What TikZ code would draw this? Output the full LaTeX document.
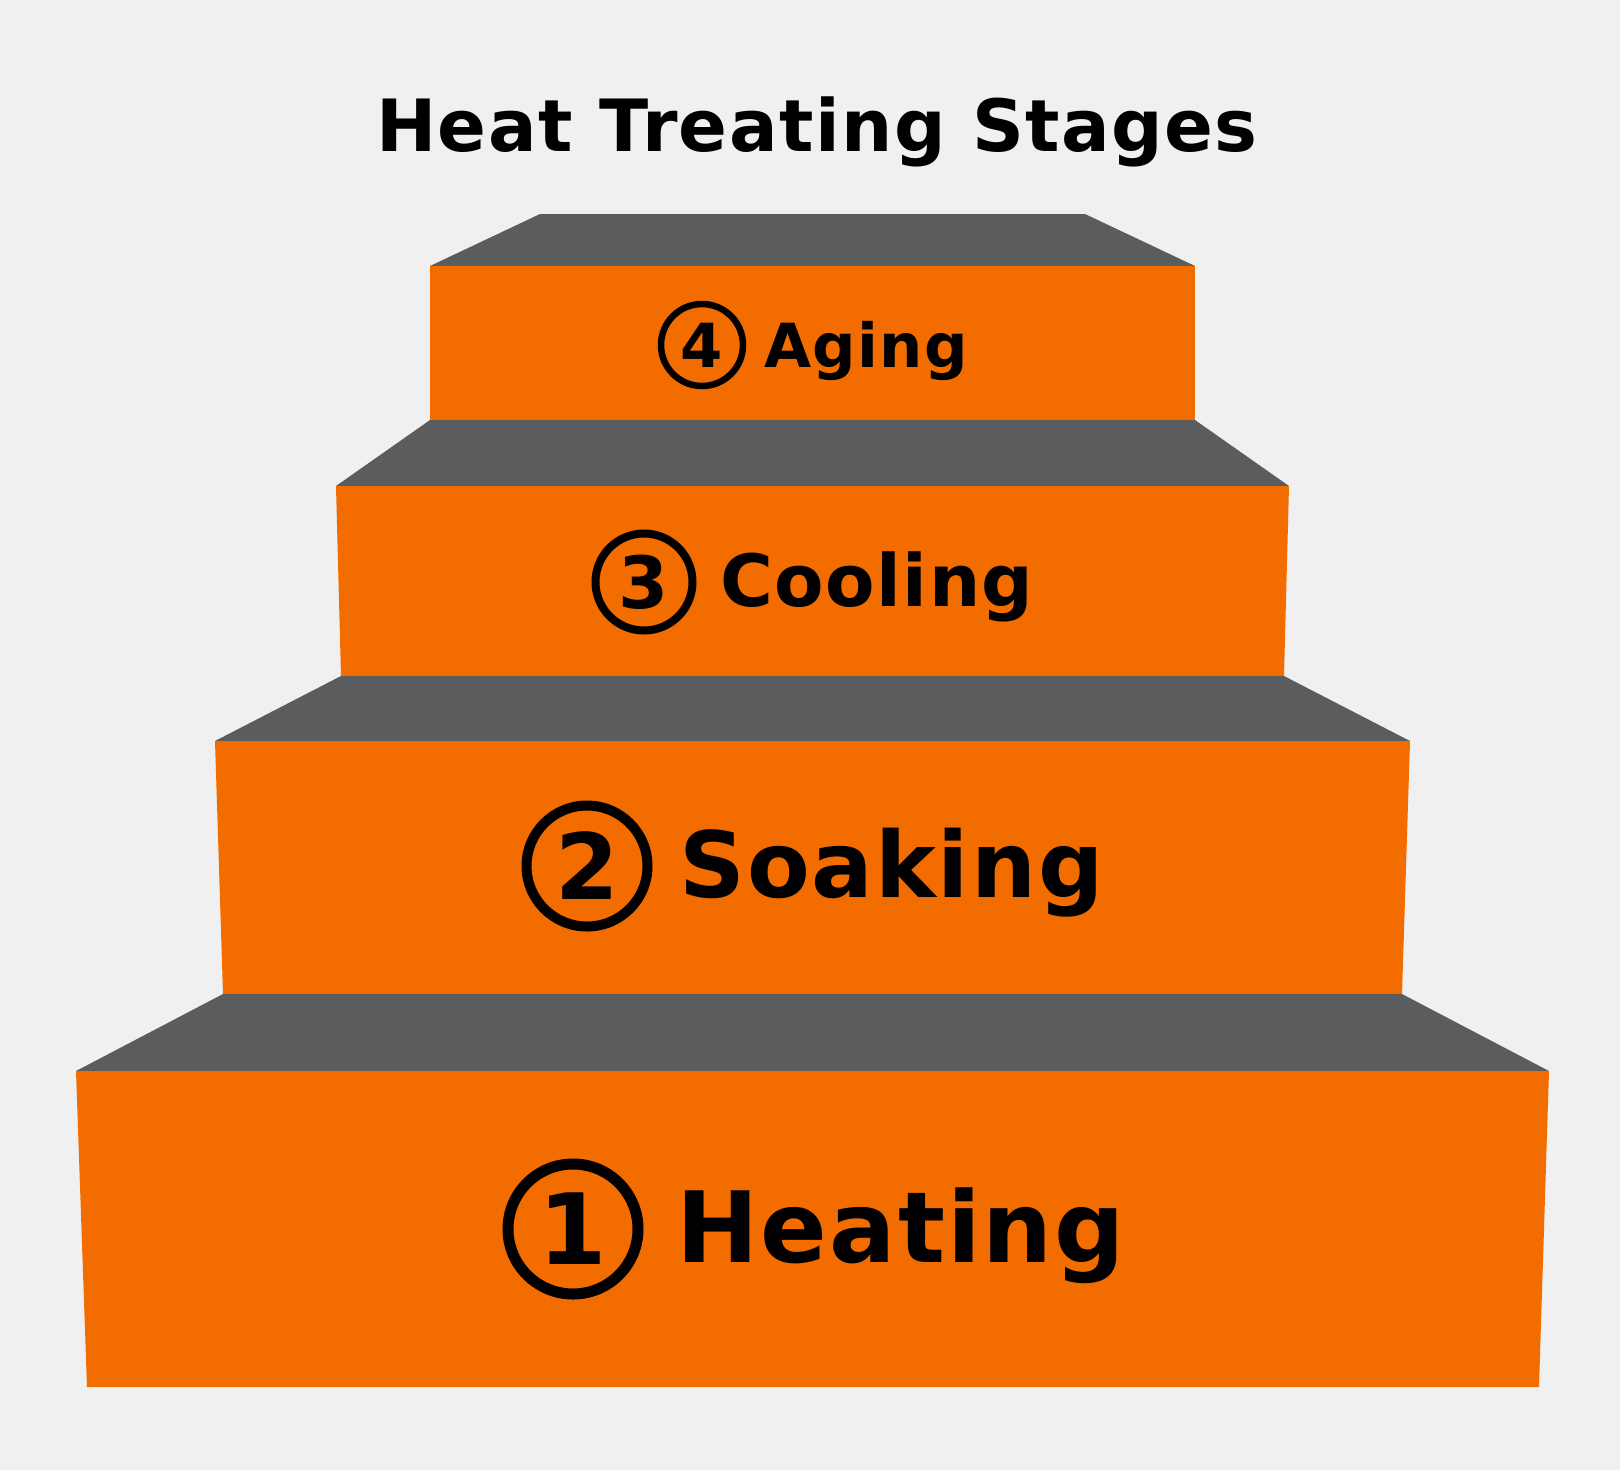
\documentclass[tikz,border=0pt]{standalone}
\usepackage{fontspec}
\setmainfont{DejaVu Sans}[LetterSpace=2]
\usetikzlibrary{positioning}
\definecolor{arancio}{RGB}{242,108,0}
\definecolor{grigio}{RGB}{90,92,94}
\definecolor{sfondo}{RGB}{240,240,240}
\tikzstyle{riser} = [fill=arancio]
\tikzstyle{tread} = [fill=grigio]
\tikzstyle{badge} = [circle, draw=black, inner sep=0pt, text centered]
\tikzstyle{stagename} = [anchor=base west, inner sep=0pt]

\begin{document}
\begin{tikzpicture}[x=0.1mm,y=-0.1mm]
\fill[sfondo] (0,0) rectangle (1620,1470);
\useasboundingbox (0,0) rectangle (1620,1470);
% gradini, dall'alto
\fill[tread] (540,214) -- (1085,214) -- (1195,266) -- (430,266) -- cycle;
\fill[riser] (430,266) rectangle (1195,420);
\fill[tread] (430,420) -- (1195,420) -- (1289,486) -- (336,486) -- cycle;
\fill[riser] (336,486) -- (1289,486) -- (1284,676) -- (341,676) -- cycle;
\fill[tread] (341,676) -- (1284,676) -- (1410,741) -- (215,741) -- cycle;
\fill[riser] (215,741) -- (1410,741) -- (1402,994) -- (223,994) -- cycle;
\fill[tread] (223,994) -- (1402,994) -- (1549,1071) -- (76,1071) -- cycle;
\fill[riser] (76,1071) -- (1549,1071) -- (1539,1387) -- (87,1387) -- cycle;

\node (title) at (817,151) [anchor=base, inner sep=0pt, font=\bfseries\fontsize{20.5pt}{24pt}\selectfont] {Heat Treating Stages};

\node (c4) at (702,345) [badge, minimum size=8.2mm, line width=0.65mm, font=\bfseries\fontsize{17.3pt}{20pt}\selectfont] {4};
\node (t4) at (764,367) [stagename, font=\bfseries\fontsize{17.3pt}{20pt}\selectfont] {Aging};
\node (c3) at (644,582) [badge, minimum size=9.7mm, line width=0.8mm, font=\bfseries\fontsize{20.5pt}{24pt}\selectfont] {3};
\node (t3) at (720,606) [stagename, font=\bfseries\fontsize{20.5pt}{24pt}\selectfont] {Cooling};
\node (c2) at (587,866) [badge, minimum size=12.1mm, line width=1mm, font=\bfseries\fontsize{26pt}{30pt}\selectfont] {2};
\node (t2) at (679,897) [stagename, font=\bfseries\fontsize{26pt}{30pt}\selectfont] {Soaking};
\node (c1) at (573,1229) [badge, minimum size=13mm, line width=1.1mm, font=\bfseries\fontsize{28pt}{32pt}\selectfont] {1};
\node (t1) at (676,1262) [stagename, font=\bfseries\fontsize{28pt}{32pt}\selectfont] {Heating};
\end{tikzpicture}
\end{document}
